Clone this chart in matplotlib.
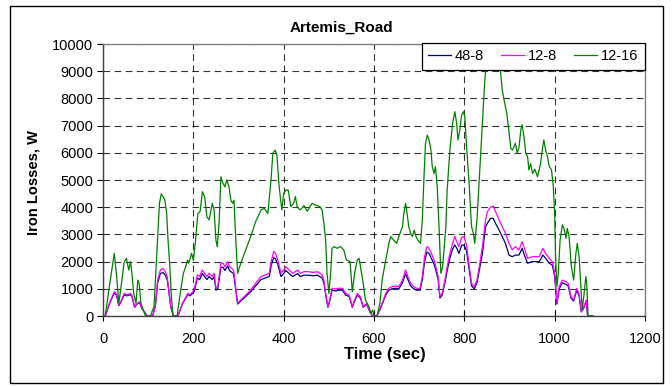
import matplotlib
matplotlib.use('Agg')
import matplotlib.pyplot as plt
from matplotlib.patches import Rectangle

plt.rcParams['font.family'] = ['Liberation Sans', 'DejaVu Sans']

# 12-16 (green)
t_1216 = [0, 5, 15, 25, 30, 35, 40, 47, 52, 57, 61, 64, 68, 73, 77, 80, 84, 89, 94, 105,
          113, 120, 125, 129, 133, 137, 141, 144, 148, 151, 155, 164, 172, 178, 183, 187, 190,
          196, 200, 205, 210, 215, 220, 225, 230, 235, 242, 246, 250, 253, 257, 261, 265, 270,
          274, 279, 283, 287, 290, 294, 298, 305, 316, 327, 338, 350, 357, 365, 372, 376, 381,
          385, 390, 396, 400, 405, 410, 416, 422, 426, 430, 437, 445, 452, 463, 470, 480, 485,
          489, 493, 496, 500, 504, 507, 512, 518, 526, 533, 539, 547, 552, 557, 563, 567, 570,
          576, 581, 589, 593, 597, 600, 607, 613, 618, 626, 633, 637, 643, 650, 655, 663, 666,
          670, 673, 677, 681, 685, 689, 693, 697, 703, 707, 711, 714, 718, 722, 726, 729, 733,
          736, 740, 744, 748, 752, 755, 759, 762, 768, 774, 779, 783, 786, 790, 794, 798, 801,
          805, 811, 816, 820, 823, 828, 833, 840, 844, 847, 852, 860, 870, 876, 880, 884, 888,
          894, 899, 903, 907, 910, 913, 917, 921, 925, 928, 932, 936, 940, 943, 947, 951, 956,
          962, 966, 969, 973, 976, 980, 984, 988, 993, 997, 1000, 1002, 1005, 1008, 1012, 1017,
          1021, 1025, 1028, 1032, 1037, 1042, 1047, 1050, 1054, 1058, 1061, 1065, 1069, 1071,
          1074, 1084]
v_1216 = [0, 0, 1200, 2300, 1500, 470, 1080, 2000, 2120, 1690, 2000, 1570, 830, 470, 1320, 1200,
          470, 220, 0, 0, 350, 2550, 4140, 4490, 4390, 4260, 3770, 2790, 1810, 830, 0, 0, 950,
          1570, 1810, 2060, 1940, 2300, 2060, 2790, 3770, 3840, 4570, 4390, 3650, 3530, 4140,
          3900, 2790, 2550, 3410, 5120, 4900, 4750, 5000, 4750, 4260, 4140, 4260, 2790, 1570,
          1940, 2430, 2920, 3470, 3900, 3960, 3770, 5000, 5980, 6100, 5920, 4750, 3900, 4510,
          4630, 4630, 4020, 4140, 4390, 4000, 3900, 4060, 3850, 4140, 4080, 4020, 3900, 3410,
          2790, 1570, 830, 1570, 2490, 2550, 2490, 2550, 2430, 2060, 2000, 890, 1570, 2060, 2120,
          1810, 1200, 590, 340, 100, 220, 0, 0, 470, 1320, 2060, 2670, 2920, 2800, 2670, 2920,
          3280, 3770, 4140, 3800, 3280, 3040, 2920, 3160, 2920, 2790, 2670, 3530, 5240, 6350,
          6650, 6470, 6100, 5490, 5240, 5490, 4750, 3280, 1570, 1810, 2430, 3280, 4630, 6100,
          7080, 7510, 7080, 6470, 6840, 7390, 7510, 7330, 6230, 4750, 3280, 3040, 2670, 3530,
          5000, 7080, 8310, 9000, 9800, 10000, 9900, 9600, 9000, 8310, 7940, 7450, 6720, 6160,
          6100, 6230, 6350, 5980, 6200, 6840, 7030, 6600, 5980, 5860, 5370, 5600, 5240, 5400,
          5120, 5400, 5640, 6160, 6470, 6100, 5860, 5500, 5370, 4750, 3770, 2180, 1080, 1570,
          2790, 3350, 3200, 2860, 3220, 2900, 1810, 1320, 2300, 2670, 2200, 1080, 220, 800, 1450,
          1200, 0, 0]

# 12-8 (magenta) and 48-8 (navy) share time points
t_low = [0, 5, 15, 25, 30, 35, 40, 47, 52, 57, 61, 64, 70, 75, 81, 86, 90, 98, 110, 116, 121,
         127, 133, 138, 142, 145, 150, 156, 166, 176, 182, 188, 193, 202, 209, 214, 220, 225,
         230, 235, 242, 246, 250, 254, 261, 266, 270, 276, 280, 285, 289, 292, 298, 305, 316,
         327, 338, 350, 360, 368, 373, 378, 382, 387, 394, 400, 405, 412, 420, 431, 437, 445,
         455, 465, 475, 485, 489, 493, 498, 502, 507, 515, 522, 530, 537, 545, 552, 557, 563,
         570, 576, 584, 591, 597, 606, 612, 618, 626, 633, 640, 648, 655, 663, 670, 675, 681,
         688, 694, 702, 707, 712, 717, 722, 727, 733, 737, 742, 746, 751, 757, 762, 768, 774,
         779, 783, 788, 794, 799, 805, 811, 816, 822, 828, 833, 840, 847, 851, 858, 864, 869,
         877, 884, 891, 899, 906, 913, 921, 928, 933, 940, 950, 958, 966, 974, 980, 988, 995,
         1000, 1005, 1010, 1017, 1025, 1030, 1036, 1042, 1049, 1054, 1059, 1064, 1070, 1073, 1084]
v_128 = [0, 0, 500, 890, 800, 400, 550, 830, 780, 800, 830, 760, 340, 450, 530, 300, 200, 0, 0,
         400, 1320, 1690, 1750, 1630, 1450, 1080, 350, 0, 0, 470, 650, 830, 780, 960, 1510, 1450,
         1690, 1570, 1450, 1570, 1450, 1570, 1020, 1080, 1940, 1940, 1810, 2000, 1810, 1750, 1690,
         1320, 470, 590, 770, 960, 1200, 1450, 1510, 1570, 2060, 2370, 2300, 2060, 1570, 1690,
         1810, 1690, 1570, 1690, 1570, 1630, 1630, 1600, 1630, 1510, 1320, 830, 340, 590, 1020,
         990, 1020, 1020, 830, 770, 340, 590, 830, 710, 340, 460, 160, 0, 0, 200, 470, 830, 1020,
         1080, 1100, 1080, 1320, 1690, 1450, 1200, 1080, 1020, 1020, 1450, 2180, 2550, 2490, 2300,
         2060, 1810, 1450, 710, 830, 1320, 1810, 2300, 2670, 2920, 2730, 2550, 2890, 2920, 2610,
         1810, 1200, 1080, 1320, 1810, 2550, 3530, 3840, 4000, 4040, 3840, 3530, 3280, 3040, 2670,
         2430, 2550, 2430, 2730, 2490, 2120, 2180, 2180, 2180, 2490, 2300, 2120, 2000, 1570, 470,
         1080, 1320, 1260, 1200, 710, 590, 1020, 800, 160, 300, 590, 0, 0]
v_488 = [0, 0, 480, 850, 760, 380, 520, 790, 740, 760, 790, 720, 320, 430, 500, 280, 190, 0, 0,
         380, 1220, 1560, 1600, 1500, 1340, 1000, 330, 0, 0, 450, 620, 790, 740, 900, 1400, 1340,
         1560, 1450, 1340, 1450, 1340, 1450, 950, 1000, 1790, 1790, 1670, 1840, 1670, 1610, 1560,
         1220, 440, 550, 720, 890, 1110, 1340, 1400, 1450, 1900, 2150, 2100, 1900, 1450, 1560,
         1670, 1560, 1450, 1560, 1450, 1500, 1500, 1480, 1500, 1400, 1220, 770, 320, 550, 950,
         920, 950, 950, 770, 720, 320, 550, 770, 660, 320, 430, 150, 0, 0, 190, 440, 770, 950,
         1000, 1020, 1000, 1220, 1560, 1340, 1110, 1000, 950, 950, 1340, 2000, 2350, 2300, 2120,
         1900, 1670, 1340, 660, 770, 1220, 1670, 2120, 2460, 2610, 2500, 2300, 2600, 2610, 2400,
         1670, 1110, 1000, 1220, 1670, 2300, 3280, 3410, 3590, 3590, 3410, 3160, 2920, 2670, 2240,
         2180, 2240, 2240, 2490, 2240, 1940, 2000, 2000, 2000, 2240, 2120, 1940, 1870, 1450, 440,
         1000, 1220, 1160, 1110, 660, 550, 950, 740, 150, 280, 550, 0, 0]

x_ticks = [0, 200, 400, 600, 800, 1000, 1200]
y_ticks = [0, 1000, 2000, 3000, 4000, 5000, 6000, 7000, 8000, 9000, 10000]

fig = plt.figure(figsize=(6.72, 3.87), dpi=100)
ax = fig.add_axes([103 / 672, 1 - 316 / 387, (645 - 103) / 672, (316 - 44) / 387])

ax.plot(t_low, v_488, color='#000080', linewidth=0.9, label='48-8')
ax.plot(t_low, v_128, color='#FF00FF', linewidth=0.9, label='12-8')
ax.plot(t_1216, v_1216, color='#008000', linewidth=0.9, label='12-16')

ax.set_xlim(0, 1200)
ax.set_ylim(0, 10000)
ax.set_xticks(x_ticks)
ax.set_yticks(y_ticks)
ax.grid(True, color='black', linestyle=(0, (6, 4)), linewidth=0.8, alpha=0.8)
ax.set_axisbelow(True)

for side in ['top', 'right']:
    ax.spines[side].set_color('#808080')
for side in ['left', 'bottom']:
    ax.spines[side].set_color('#404040')
for s in ax.spines.values():
    s.set_linewidth(1.0)

ax.tick_params(axis='x', direction='inout', length=7, labelsize=10.5, pad=8)
ax.tick_params(axis='y', direction='out', length=4, labelsize=10.5, pad=3)

fig.text(341 / 672, 1 - 28 / 387, 'Artemis_Road', ha='center', va='center',
         fontsize=11, fontweight='bold')
fig.text(385 / 672, 1 - 355 / 387, 'Time (sec)', ha='center', va='center',
         fontsize=12, fontweight='bold')
fig.text(33 / 672, 1 - 183 / 387, 'Iron Losses, W', ha='center', va='center',
         rotation=90, fontsize=10.5, fontweight='bold')

leg = ax.legend(loc='upper right', bbox_to_anchor=(1.0, 1.004), ncol=3, fontsize=10.5,
                frameon=True, fancybox=False, edgecolor='black', borderaxespad=0,
                handlelength=1.6, handletextpad=0.25, columnspacing=1.15,
                borderpad=0.45)
leg.get_frame().set_linewidth(0.9)
leg.get_frame().set_alpha(1)

fig.patches.append(Rectangle((9.5 / 672, 1 - 382.5 / 387), (663 - 9.5) / 672, (382.5 - 6) / 387,
                             transform=fig.transFigure, fill=False, edgecolor='black',
                             linewidth=1.0))

plt.savefig('out.png', dpi=100)
plt.close()
